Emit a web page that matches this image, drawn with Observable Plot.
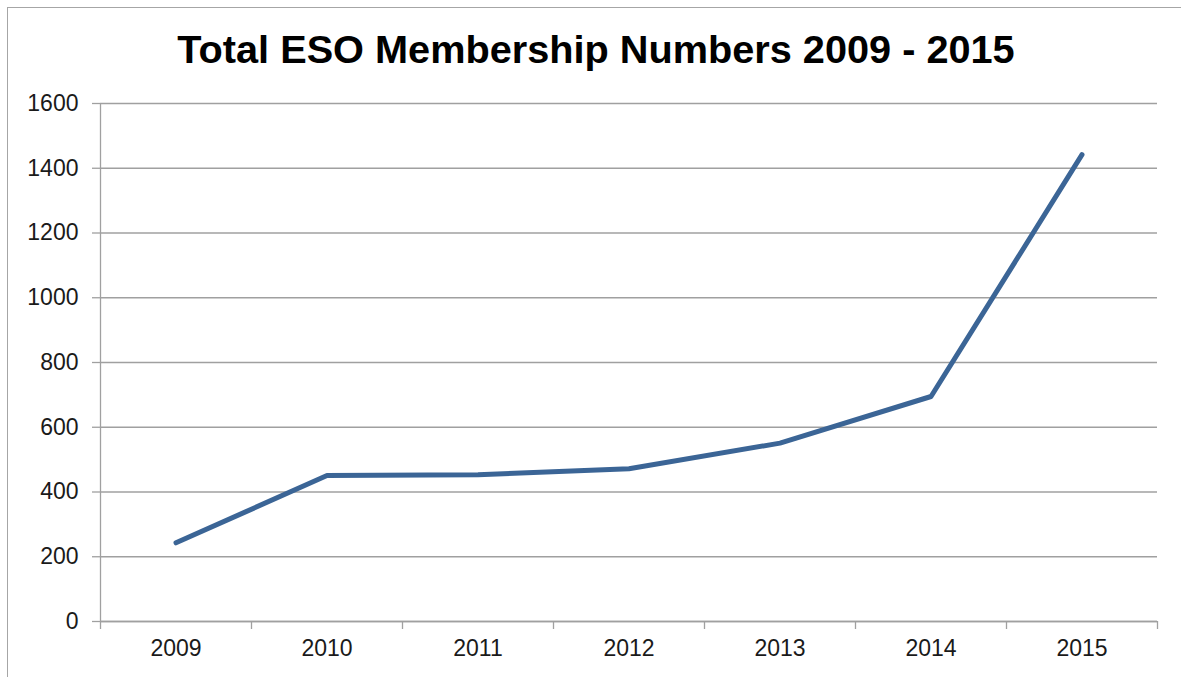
<!DOCTYPE html>
<html>
<head>
<meta charset="utf-8">
<script src="https://cdn.jsdelivr.net/npm/d3@7"></script>
<script src="https://cdn.jsdelivr.net/npm/@observablehq/plot@0.6"></script>
<style>
  html, body { margin: 0; padding: 0; background: #fff; overflow: hidden; }
  #wrap { position: relative; width: 1181px; height: 677px; }
  #border { position: absolute; left: 7px; top: 7px; width: 1300px; height: 800px; border: 1px solid #a6a6a6; pointer-events: none; }
  #title { font-family: "Liberation Sans", Arial, sans-serif; font-weight: bold; font-size: 39.7px; line-height: 39px;
           height: 39px; padding-top: 30px; padding-bottom: 11px; padding-left: 11px; text-align: center; color: #000; }
  #chart svg { display: block; }
</style>
</head>
<body>
<div id="wrap">
  <div id="border"></div>
  <div id="title">Total ESO Membership Numbers 2009 - 2015</div>
  <div id="chart"></div>
</div>
<script>
const years = [2009, 2010, 2011, 2012, 2013, 2014, 2015];
const members = [243, 451, 453, 472, 551, 695, 1442];
const yTicks = [0, 200, 400, 600, 800, 1000, 1200, 1400, 1600];

const data = years.map((y, i) => ({year: y, value: members[i]}));
const bounds = years.map(y => y - 0.5).concat([years[years.length - 1] + 0.5]);
const xDomain = [bounds[0], bounds[bounds.length - 1]];
const yDomain = [yTicks[0], yTicks[yTicks.length - 1]];

const grey = "#a0a0a0";
const ink = "#1a1a1a";

const chart = Plot.plot({
  width: 1181,
  height: 597,
  marginTop: 23,
  marginBottom: 56,
  marginLeft: 100,
  marginRight: 24,
  style: {fontFamily: "'Liberation Sans', Arial, sans-serif", fontSize: "23px", background: "transparent", overflow: "visible"},
  x: {domain: xDomain},
  y: {domain: yDomain},
  marks: [
    Plot.gridY(yTicks, {stroke: grey, strokeOpacity: 1, strokeWidth: 1.3}),
    Plot.ruleX([xDomain[0]], {stroke: grey, strokeWidth: 1.3}),
    Plot.ruleY([yDomain[0]], {stroke: grey, strokeWidth: 1.3}),
    Plot.axisY({ticks: yTicks, tickSize: 8, tickPadding: 14, tickFormat: d => String(d), stroke: grey, strokeOpacity: 1, strokeWidth: 1.3,
                fontSize: 23, fill: ink, label: null}),
    Plot.axisX({ticks: bounds, tickSize: 8, tickFormat: () => "", stroke: grey, strokeOpacity: 1, strokeWidth: 1.3, label: null}),
    Plot.axisX({ticks: years, tickSize: 0, tickPadding: 18, tickFormat: d => String(d), fontSize: 23, fill: ink, label: null}),
    Plot.line(data, {x: "year", y: "value", stroke: "#3b6596", strokeWidth: 5, strokeLinecap: "round", strokeLinejoin: "round"})
  ]
});
document.getElementById("chart").appendChild(chart);
</script>
</body>
</html>
